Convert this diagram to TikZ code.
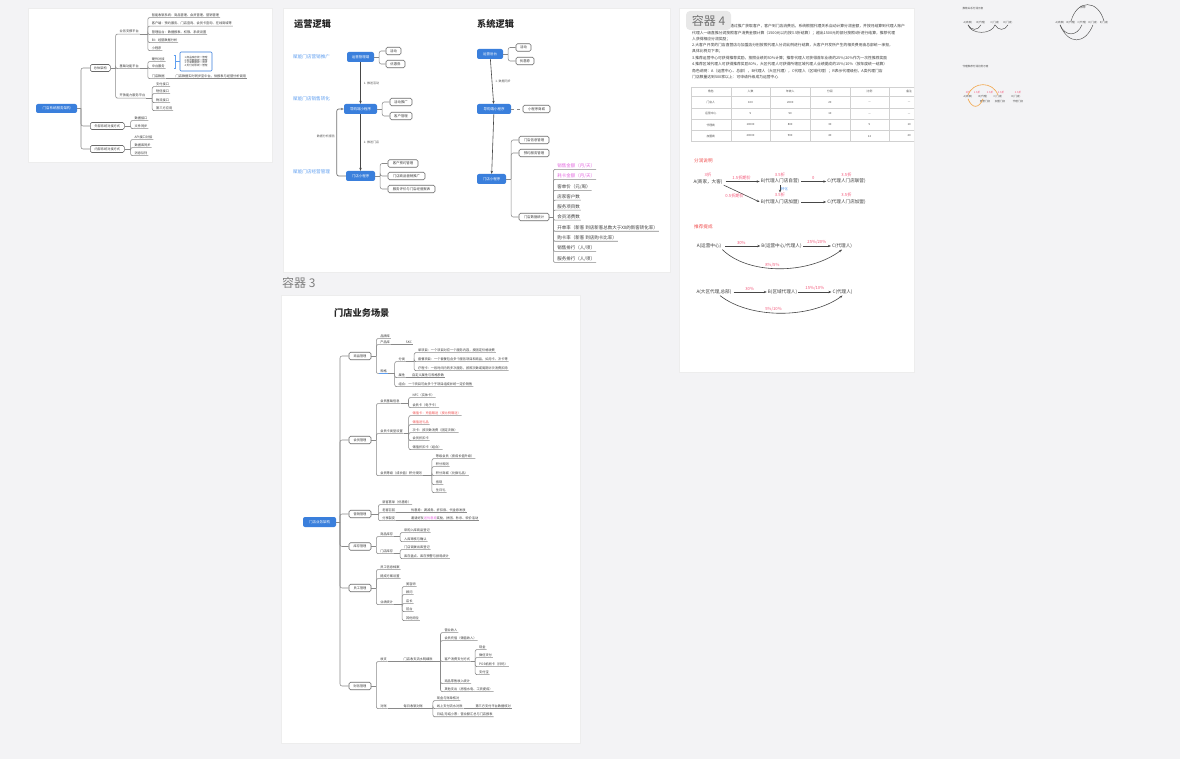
\documentclass[tikz,border=0pt]{standalone}
\usepackage{fontspec}
\setmainfont{Noto Sans CJK SC}
\usetikzlibrary{arrows.meta,positioning,calc}

\definecolor{canvasbg}{HTML}{F3F3F5}
\definecolor{hubblue}{HTML}{3A7FDC}
\definecolor{skyblue}{HTML}{5E9EF0}
\definecolor{linegray}{HTML}{8A8A8A}
\definecolor{boxgray}{HTML}{6A6A6A}
\definecolor{inkgray}{HTML}{3A3A3A}
\definecolor{magentatxt}{HTML}{E466E0}
\definecolor{redtxt}{HTML}{F04E4E}
\definecolor{rosetxt}{HTML}{F3587A}
\definecolor{arcorange}{HTML}{F2A548}

\newcommand{\fz}[1]{\fontsize{#1}{#1}\selectfont}

\tikzstyle{panel}=[fill=white, draw=black!7, line width=0.5pt]
\tikzstyle{mmroot}=[fill=hubblue, rounded corners=2pt, text=white, font=\fz{3.5}, inner sep=0pt]
\tikzstyle{mmtopic}=[draw=boxgray, fill=white, rounded corners=1.5pt, line width=0.6pt, text=inkgray, font=\fz{3.2}, inner sep=0pt]
\tikzstyle{mmleaf}=[anchor=west, inner xsep=0.8pt, inner ysep=0.9pt, text=inkgray, font=\fz{3.2}]
\tikzstyle{bigleaf}=[mmleaf, font=\fz{4.5}]
\tikzstyle{mmline}=[draw=linegray, line width=0.55pt, rounded corners=2pt]
\tikzstyle{flowarrow}=[draw=black!72, line width=0.6pt, -{Stealth[length=3pt,width=2.4pt]}]
\tikzstyle{flownote}=[font=\fz{3}, text=black!65, inner sep=1pt]
\tikzstyle{skylabel}=[anchor=west, font=\fz{4.6}, text=skyblue, inner sep=0pt]
\tikzstyle{heading}=[anchor=west, font=\bfseries\fz{9.2}, text=black!85, inner sep=0pt]
\tikzstyle{paratext}=[anchor=west, font=\fz{3.8}, text=inkgray, inner sep=0pt]
\tikzstyle{tableline}=[draw=black!18, line width=0.4pt]
\tikzstyle{cell}=[font=\fz{2.8}, text=black!70, inner sep=0pt]
\tikzstyle{flowtxt}=[font=\fz{4.6}, text=inkgray, inner sep=1pt]
\tikzstyle{rednote}=[font=\fz{4.2}, text=rosetxt, inner sep=0.5pt]
\tikzstyle{redhead}=[anchor=west, font=\fz{4.6}, text=redtxt, inner sep=0pt]
\tikzstyle{tinytxt}=[font=\fz{2.6}, text=black!70, inner sep=0.3pt]
\tikzstyle{tinyarc}=[draw=black!70, line width=0.45pt]
\tikzstyle{warmarc}=[draw=arcorange, line width=0.6pt]

\begin{document}
\begin{tikzpicture}[x=1pt, y=-1pt]
% the canvas and its fixed size
\fill[canvasbg] (0,0) rectangle (1180,759);
\useasboundingbox (0,0) rectangle (1180,759);

% First we draw the four containers
\foreach \xa/\ya/\xb/\yb in {28/8/272/162, 283/8/670/272, 281/295/580/743, 679/8/914/372}
  \filldraw[panel] (\xa,\ya) rectangle (\xb,\yb);
\node[anchor=west, text=black!50, font=\fz{12}, inner sep=0pt] (c3tag) at (282,283) {容器 3};

% ===== container 1 =====
\node[mmroot, minimum width=41pt, minimum height=9pt] (sys) at (56.5,108.5) {门店系统服务架构};
\foreach \y/\nm/\tx/\w in {68/arch/{总体架构}/20, 126/outer/{外部系统对接方式}/34, 149/inner/{内部系统对接方式}/34}
  \node[mmtopic, minimum width=\w pt, minimum height=7pt, anchor=west] (\nm) at (90,\y) {\tx};
\coordinate (sysS) at (81,108.5);
\draw[mmline] (sys.east) -- (sysS);
\foreach \nm in {arch,outer,inner} \draw[mmline] (sysS) |- (\nm.west);

\path (arch.east) ++(5,0) coordinate (archS) ++(3,0) coordinate (archX);
\draw[mmline] (arch.east) -- (archS);
\foreach \y/\nm/\tx in {31.5/biz/{业务支撑平台}, 66/base/{基础功能平台}, 95.5/open/{开放能力服务平台}}{
  \node[mmleaf] (\nm) at (archX |- 0,\y) {\tx};
  \draw[mmline] (archS) |- (\nm.south west) -- (\nm.south east);
}

\path (biz.south east) ++(8,0) coordinate (bizS) ++(3,0) coordinate (bizX);
\draw[mmline] (biz.south east) -- (bizS);
\foreach \y/\nm/\tx in {15/biz1/{智能收银系统：商品管理、会员管理、营销管理}, 23.5/biz2/{客户端：预约服务、门店查询、会员卡查询、在线商城等},
    32/biz3/{管理后台：数据报表、权限、系统设置}, 40/biz4/{BI：经营数据分析}, 48/biz5/{小程序}}{
  \node[mmleaf] (\nm) at (bizX |- 0,\y) {\tx};
  \draw[mmline] (bizS) |- (\nm.south west) -- (\nm.south east);
}

\path (base.south east) ++(8,0) coordinate (baseS) ++(3,0) coordinate (baseX);
\draw[mmline] (base.south east) -- (baseS);
\foreach \y/\nm/\tx in {59/base1/{硬件对接}, 66/base2/{中台服务}, 76/base3/{门店数据}}{
  \node[mmleaf] (\nm) at (baseX |- 0,\y) {\tx};
  \draw[mmline] (baseS) |- (\nm.south west) -- (\nm.south east);
}
\node[mmleaf, anchor=south west] (base3t) at ([xshift=9pt]base3.south east) {门店数据实时同步至中台，供报表与经营分析调用};
\draw[mmline] (base3.south east) -- (base3t.south east);
\node[draw=hubblue, fill=white, line width=0.6pt, rounded corners=1pt, align=left, font=\fz{2.6}, text=inkgray,
      inner sep=1.2pt, minimum width=32pt, minimum height=19pt] (baseNote) at (196,61.5)
      {1.商品库存统一管理\\2.会员数据统一管理\\3.订单数据统一同步\\4.支付对账统一管理};
\draw[draw=skyblue, line width=0.5pt] ($(baseNote.west)+(-6,-6.5)$) -- ++(1.5,0) -- ++(0,13) -- ++(-1.5,0);
\draw[draw=skyblue, line width=0.5pt] ($(baseNote.west)+(-4.5,0)$) -- (baseNote.west);

\path (open.south east) ++(6,0) coordinate (openS) ++(3,0) coordinate (openX);
\draw[mmline] (open.south east) -- (openS);
\foreach \y/\nm/\tx in {84/open1/{支付接口}, 91/open2/{短信接口}, 100/open3/{物流接口}, 108/open4/{第三方应用}}{
  \node[mmleaf] (\nm) at (openX |- 0,\y) {\tx};
  \draw[mmline] (openS) |- (\nm.south west) -- (\nm.south east);
}

\path (outer.east) ++(6,0) coordinate (outerS) ++(3,0) coordinate (outerX);
\draw[mmline] (outer.east) -- (outerS);
\foreach \y/\nm/\tx in {118/outer1/{数据接口}, 126/outer2/{文件同步}}{
  \node[mmleaf] (\nm) at (outerX |- 0,\y) {\tx};
  \draw[mmline] (outerS) |- (\nm.south west) -- (\nm.south east);
}
\path (inner.east) ++(6,0) coordinate (innerS) ++(3,0) coordinate (innerX);
\draw[mmline] (inner.east) -- (innerS);
\foreach \y/\nm/\tx in {137/inner1/{API接口对接}, 145/inner2/{数据库同步}, 153/inner3/{消息队列}}{
  \node[mmleaf] (\nm) at (innerX |- 0,\y) {\tx};
  \draw[mmline] (innerS) |- (\nm.south west) -- (\nm.south east);
}

% ===== container 2: 运营逻辑 / 系统逻辑 =====
\node[heading] (opTitle) at (294,24) {运营逻辑};
\node[heading] (sysTitle) at (477,24) {系统逻辑};
\foreach \y/\nm/\tx in {57/op1/{赋能门店营销推广}, 99/op2/{赋能门店销售转化}, 172/op3/{赋能门店经营管理}}
  \node[skylabel] (\nm) at (293,\y) {\tx};

\node[mmroot, minimum width=27pt, minimum height=10pt] (yy1) at (360.5,57) {运营管理端};
\node[mmroot, minimum width=33pt, minimum height=10pt] (yy2) at (360.5,109) {导购端小程序};
\node[mmroot, minimum width=29pt, minimum height=10pt] (yy3) at (360.5,176) {门店小程序};
\foreach \cx/\cy/\w/\nm/\tx in {393.5/51/15/yy1a/{活动}, 395.5/64/19/yy1b/{优惠券},
    401/102/22/yy2a/{活动推广}, 401/116/22/yy2b/{客户管理},
    403/163.5/30/yy3a/{客户预约管理}, 406.5/176/37/yy3b/{门店商品营销推广}, 411.5/189/47/yy3c/{服务评价与门店经营报表}}
  \node[mmtopic, font=\fz{3.4}, minimum width=\w pt, minimum height=7.5pt] (\nm) at (\cx,\cy) {\tx};
\foreach \p/\kids in {yy1/{yy1a,yy1b}, yy2/{yy2a,yy2b}, yy3/{yy3a,yy3b,yy3c}}{
  \path (\p.east) ++(5,0) coordinate (\p S);
  \draw[mmline] (\p.east) -- (\p S);
  \foreach \k in \kids \draw[mmline] (\p S) |- (\k.west);
}
\draw[flowarrow] (yy1) -- node[flownote, right=2pt] (yyl1) {1. 推送活动} (yy2);
\draw[flowarrow] (yy2) -- node[flownote, right=2pt] (yyl2) {2. 推送门店} (yy3);
\draw[flowarrow, draw=black!55, line width=0.7pt, rounded corners=2pt] (yy3.west) -- ++(-9,0) |- (yy2.west);
\node[flownote, anchor=east] (yyl3) at (336,136) {数据分析报告};

\node[mmroot, minimum width=26pt, minimum height=10pt] (xt1) at (490,54) {运营后台};
\node[mmroot, minimum width=34pt, minimum height=10pt] (xt2) at (494,109) {导购端小程序};
\node[mmroot, minimum width=29pt, minimum height=10pt] (xt3) at (491.5,179) {门店小程序};
\foreach \cx/\cy/\w/\nm/\tx in {523.5/47.5/15/xt1a/{活动}, 525/61/18/xt1b/{优惠券}, 536.5/109/27/xt2a/{小程序商城},
    534/140/30/xt3a/{门店信息管理}, 534/153/30/xt3b/{预约服务管理}, 534/217/30/stat/{门店数据统计}}
  \node[mmtopic, font=\fz{3.4}, minimum width=\w pt, minimum height=7.5pt] (\nm) at (\cx,\cy) {\tx};
\foreach \p/\kids in {xt1/{xt1a,xt1b}, xt3/{xt3a,xt3b,stat}}{
  \path (\p.east) ++(5,0) coordinate (\p S);
  \draw[mmline] (\p.east) -- (\p S);
  \foreach \k in \kids \draw[mmline] (\p S) |- (\k.west);
}
\draw[mmline, dashed] (xt2.east) -- (xt2a.west);
\draw[flowarrow] (xt1) -- node[flownote, right=2pt] (xtl1) {1. 数据同步} (xt2);
\draw[flowarrow] (xt2) -- (xt3);

\path (stat.east) ++(4,0) coordinate (statS) ++(3,0) coordinate (statX);
\draw[mmline] (stat.east) -- (statS);
\foreach \y/\nm/\tx in {166/st1/{\textcolor{magentatxt}{销售金额（月/天）}}, 176/st2/{\textcolor{magentatxt}{耗卡金额（月/天）}},
    187/st3/{客单价（元/周）}, 197/st4/{店家客户数}, 207/st5/{服务项目数}, 217/st6/{会员消费数},
    228/st7/{开单率（新客 到店新客总数大于XX的新客转化率）}, 238/st8/{购卡率（新客 到店购卡比率）},
    248/st9/{销售排行（人/项）}, 259/st10/{服务排行（人/项）}}{
  \node[bigleaf] (\nm) at (statX |- 0,\y) {\tx};
  \draw[mmline] (statS) |- (\nm.south west) -- (\nm.south east);
}

% ===== container 3: 门店业务场景 =====
\node[heading] (storeTitle) at (334,313) {门店业务场景};
\node[mmroot, minimum width=33pt, minimum height=10pt] (store) at (319.5,522) {门店业务架构};
\coordinate (storeS) at (340,522);
\draw[mmline] (store.east) -- (storeS);
\foreach \y/\nm/\tx in {356/goods/{商品管理}, 440/member/{会员管理}, 514/promo/{营销管理}, 546.5/stock/{库存管理}, 588/staff/{员工管理}, 686/fin/{财务管理}}{
  \node[mmtopic, minimum width=22pt, minimum height=7.5pt] (\nm) at (360,\y) {\tx};
  \draw[mmline] (storeS) |- (\nm.west);
}

% 商品管理
\path (goods.east) ++(5,0) coordinate (goodsS) ++(3,0) coordinate (goodsX);
\draw[mmline] (goods.east) -- (goodsS);
\foreach \y/\nm/\tx in {336/brand/{品牌库}, 342/prod/{产品库}}{
  \node[mmleaf] (\nm) at (goodsX |- 0,\y) {\tx};
  \draw[mmline] (goodsS) |- (\nm.south west) -- (\nm.south east);
}
\node[mmleaf, anchor=south west] (skc) at ([xshift=14pt]prod.south east) {SKC};
\draw[mmline] (prod.south east) -- (skc.south east);
\node[mmleaf] (spec) at (goodsX |- 0,371) {规格};
\draw[mmline] (goodsS) |- (spec.south west);
\draw[draw=skyblue, line width=0.9pt] (spec.south west) -- (spec.south east);
\path (spec.south east) ++(7,0) coordinate (specS) ++(3,0) coordinate (specX);
\draw[mmline] (spec.south east) -- (specS);
\foreach \y/\nm/\tx in {359/cat/{分类}, 375/attr/{属性}, 384/combo/{组合：一个项目可由多个子项目组成并统一定价销售}}{
  \node[mmleaf] (\nm) at (specX |- 0,\y) {\tx};
  \draw[mmline] (specS) |- (\nm.south west) -- (\nm.south east);
}
\node[mmleaf, anchor=south west] (attrT) at ([xshift=5pt]attr.south east) {自定义属性与规格参数};
\draw[mmline] (attr.south east) -- (attrT.south east);
\path (cat.south east) ++(8,0) coordinate (catS) ++(3,0) coordinate (catX);
\draw[mmline] (cat.south east) -- (catS);
\foreach \y/\nm/\tx in {350/cat1/{单项目：一个项目对应一个服务内容，按固定价格收费}, 359/cat2/{套餐项目：一个套餐包含多个服务项目和商品，如月卡、次卡等},
    368/cat3/{疗程卡：一段时间内的多次服务，按照次数或周期计次消费扣除}}{
  \node[mmleaf] (\nm) at (catX |- 0,\y) {\tx};
  \draw[mmline] (catS) |- (\nm.south west) -- (\nm.south east);
}

% 会员管理
\path (member.east) ++(5,0) coordinate (memberS) ++(3,0) coordinate (memberX);
\draw[mmline] (member.east) -- (memberS);
\foreach \y/\nm/\tx in {401/minfo/{会员基础信息}, 431/mcard/{会员卡类型设置}, 473/mlevel/{会员等级（成长值）积分规则}}{
  \node[mmleaf] (\nm) at (memberX |- 0,\y) {\tx};
  \draw[mmline] (memberS) |- (\nm.south west) -- (\nm.south east);
}
\path (minfo.south east) ++(8,0) coordinate (minfoS) ++(3,0) coordinate (minfoX);
\draw[mmline] (minfo.south east) -- (minfoS);
\foreach \y/\nm/\tx in {395/minfo1/{NFC（实体卡）}, 405/minfo2/{会员卡（电子卡）}}{
  \node[mmleaf] (\nm) at (minfoX |- 0,\y) {\tx};
  \draw[mmline] (minfoS) |- (\nm.south west) -- (\nm.south east);
}
\path (mcard.south east) ++(5,0) coordinate (mcardS) ++(3,0) coordinate (mcardX);
\draw[mmline] (mcard.south east) -- (mcardS);
\foreach \y/\nm/\tx in {413/mcard1/{\textcolor{redtxt}{储值卡：充值赠送（按比例赠送）}}, 422/mcard2/{\textcolor{redtxt}{储值送礼品}},
    430/mcard3/{次卡：按次数消费（固定次数）}, 438/mcard4/{会员折扣卡}, 447/mcard5/{储值折扣卡（组合）}}{
  \node[mmleaf] (\nm) at (mcardX |- 0,\y) {\tx};
  \draw[mmline] (mcardS) |- (\nm.south west) -- (\nm.south east);
}
\path (mlevel.south east) ++(9,0) coordinate (mlevelS) ++(3,0) coordinate (mlevelX);
\draw[mmline] (mlevel.south east) -- (mlevelS);
\foreach \y/\nm/\tx in {456/mlevel1/{等级会员（按成长值升级）}, 464/mlevel2/{积分规则}, 473/mlevel3/{积分商城（兑换礼品）},
    482/mlevel4/{抵现}, 490/mlevel5/{生日礼}}{
  \node[mmleaf] (\nm) at (mlevelX |- 0,\y) {\tx};
  \draw[mmline] (mlevelS) |- (\nm.south west) -- (\nm.south east);
}

% 营销管理
\path (promo.east) ++(7,0) coordinate (promoS) ++(3,0) coordinate (promoX);
\draw[mmline] (promo.east) -- (promoS);
\foreach \y/\nm/\tx in {502/promo1/{新客首单（优惠券）}, 510/promo2/{老客召回}, 518/promo3/{分享裂变}}{
  \node[mmleaf] (\nm) at (promoX |- 0,\y) {\tx};
  \draw[mmline] (promoS) |- (\nm.south west) -- (\nm.south east);
}
\node[mmleaf, anchor=south west] (promo2t) at ([xshift=14pt]promo2.south east) {优惠券：满减券、折扣券、代金券发放};
\draw[mmline] (promo2.south east) -- (promo2t.south east);
\node[mmleaf, anchor=south west] (promo3t) at ([xshift=14pt]promo3.south east) {邀请好友\textcolor{magentatxt}{送优惠券}奖励，拼团、秒杀、砍价活动};
\draw[mmline] (promo3.south east) -- (promo3t.south east);

% 库存管理
\path (stock.east) ++(5,0) coordinate (stockS) ++(3,0) coordinate (stockX);
\draw[mmline] (stock.east) -- (stockS);
\foreach \y/\nm/\tx in {534/gstock/{商品库存}, 551/sstock/{门店库存}}{
  \node[mmleaf] (\nm) at (stockX |- 0,\y) {\tx};
  \draw[mmline] (stockS) |- (\nm.south west) -- (\nm.south east);
}
\path (gstock.south east) ++(6,0) coordinate (gstockS) ++(3,0) coordinate (gstockX);
\draw[mmline] (gstock.south east) -- (gstockS);
\foreach \y/\nm/\tx in {530/gstock1/{采购入库商品登记}, 539/gstock2/{入库审核与确认}}{
  \node[mmleaf] (\nm) at (gstockX |- 0,\y) {\tx};
  \draw[mmline] (gstockS) |- (\nm.south west) -- (\nm.south east);
}
\path (sstock.south east) ++(6,0) coordinate (sstockS) ++(3,0) coordinate (sstockX);
\draw[mmline] (sstock.south east) -- (sstockS);
\foreach \y/\nm/\tx in {547/sstock1/{门店调拨出库登记}, 556/sstock2/{库存盘点、库存预警与损耗统计}}{
  \node[mmleaf] (\nm) at (sstockX |- 0,\y) {\tx};
  \draw[mmline] (sstockS) |- (\nm.south west) -- (\nm.south east);
}

% 员工管理
\path (staff.east) ++(5,0) coordinate (staffS) ++(3,0) coordinate (staffX);
\draw[mmline] (staff.east) -- (staffS);
\foreach \y/\nm/\tx in {567/staff1/{员工信息档案}, 576/staff2/{提成方案设置}, 602/staff3/{业绩统计}}{
  \node[mmleaf] (\nm) at (staffX |- 0,\y) {\tx};
  \draw[mmline] (staffS) |- (\nm.south west) -- (\nm.south east);
}
\path (staff3.south east) ++(8,0) coordinate (staff3S) ++(3,0) coordinate (staff3X);
\draw[mmline] (staff3.south east) -- (staff3S);
\foreach \y/\nm/\tx in {584/role1/{美容师}, 592/role2/{顾问}, 601/role3/{店长}, 609/role4/{前台}, 618/role5/{其他岗位}}{
  \node[mmleaf] (\nm) at (staff3X |- 0,\y) {\tx};
  \draw[mmline] (staff3S) |- (\nm.south west) -- (\nm.south east);
}

% 财务管理
\path (fin.east) ++(5,0) coordinate (finS) ++(3,0) coordinate (finX);
\draw[mmline] (fin.east) -- (finS);
\foreach \y/\nm/\tx in {659/cash/{收支}, 706/check/{对账}}{
  \node[mmleaf] (\nm) at (finX |- 0,\y) {\tx};
  \draw[mmline] (finS) |- (\nm.south west) -- (\nm.south east);
}
\node[mmleaf, anchor=south west] (cashT) at ([xshift=15pt]cash.south east) {门店收支流水明细账};
\draw[mmline] (cash.south east) -- (cashT.south east);
\node[mmleaf, anchor=south west] (checkT) at ([xshift=15pt]check.south east) {每日收银对账};
\draw[mmline] (check.south east) -- (checkT.south east);
\path (cashT.south east) ++(7,0) coordinate (cashS) ++(3,0) coordinate (cashX);
\draw[mmline] (cashT.south east) -- (cashS);
\foreach \y/\nm/\tx in {630/cash1/{营业收入}, 638/cash2/{会员充值（储值收入）}, 659/cash3/{客户消费支付方式},
    681/cash4/{商品零售收入统计}, 689/cash5/{其他支出（房租水电、工资提成）}}{
  \node[mmleaf] (\nm) at (cashX |- 0,\y) {\tx};
  \draw[mmline] (cashS) |- (\nm.south west) -- (\nm.south east);
}
\path (cash3.south east) ++(4,0) coordinate (payS) ++(3,0) coordinate (payX);
\draw[mmline] (cash3.south east) -- (payS);
\foreach \y/\nm/\tx in {647/pay1/{现金}, 655/pay2/{微信支付}, 664/pay3/{POS机刷卡（扫码）}, 672/pay4/{支付宝}}{
  \node[mmleaf] (\nm) at (payX |- 0,\y) {\tx};
  \draw[mmline] (payS) |- (\nm.south west) -- (\nm.south east);
}
\path (checkT.south east) ++(9,0) coordinate (checkS) ++(3,0) coordinate (checkX);
\draw[mmline] (checkT.south east) -- (checkS);
\foreach \y/\nm/\tx in {698/check1/{现金与账单核对}, 706/check2/{线上支付流水对账}, 714/check3/{日结/月结小票：营业额汇总与门店报表}}{
  \node[mmleaf] (\nm) at (checkX |- 0,\y) {\tx};
  \draw[mmline] (checkS) |- (\nm.south west) -- (\nm.south east);
}
\node[mmleaf, anchor=south west] (check2t) at ([xshift=11pt]check2.south east) {第三方支付平台数据核对};
\draw[mmline] (check2.south east) -- (check2t.south east);

% ===== container 4: 分润规则 =====
\foreach \y/\nm/\tx in {
    26.3/para1/{分润规则说明：代理人通过推广获取客户，客户到门店消费后，系统根据代理关系自动计算分润金额，并按月结算到代理人账户},
    33/para2/{代理人一级直推分润按照客户消费金额计算（1500元以内按3.5折结算）；超出1500元的部分按照4折进行结算，推荐代理},
    39/para3/{人获得相应分润奖励；},
    45.3/para4/{2.大客户开发的门店直营店与加盟店分别按照代理人分润比例进行结算，大客户开发所产生的相关费用由总部统一承担，},
    51.3/para5/{具体比例见下表；},
    58/para6/{3.推荐运营中心可获得推荐奖励，按照业绩的30\%计算；推荐代理人可获得首年业绩的25\%/20\%作为一次性推荐奖励},
    64/para7/{4.推荐区域代理人可获得推荐奖励30\%，大区代理人可获得所辖区域代理人业绩提成的15\%/10\%（按年度统一结算）},
    70.7/para8/{角色说明：A（运营中心、总部），B代理人（大区代理），C代理人（区域代理）；R表示代理级别，A类代理门店},
    76.7/para9/{门店数量达到500家以上：可申请升级成为运营中心}}
  \node[paratext] (\nm) at (692,\y) {\tx};
\node[fill=black!9, rounded corners=4pt, text=black!55, font=\fz{12}, inner sep=0pt,
      minimum width=45pt, minimum height=19pt] (c4tag) at (708.5,20.5) {容器 4};

% the table, cut by the container edge
\begin{scope}
  \clip (679,8) rectangle (914,372);
  \foreach \y in {87,96.5,108,119.5,130.5,141.5} \draw[tableline] (691,\y) -- (929,\y);
  \foreach \x in {691,730.7,770.3,810,849.7,889.3,929} \draw[tableline] (\x,87) -- (\x,141.5);
  \foreach \y/\ta/\tb/\tc/\td/\te/\tf [count=\r] in {91.8/角色/人数/年收入/分润/比例/备注, 102.3/门店人/100/2000/20/—/—,
      113.8/运营中心/5/50/10/—/—, 125/代理商/10000/800/30/5/10, 136/加盟商/20000/900/40/12/20}
    \foreach \x/\t [count=\c] in {710.8/\ta, 750.5/\tb, 790.2/\tc, 829.8/\td, 869.5/\te, 909.2/\tf}
      \node[cell] (cell\r\c) at (\x,\y) {\t};
\end{scope}

% 分润说明
\node[redhead] (shareHead) at (694,161) {分润说明};
\node[flowtxt] (fa) at (708,181.5) {A(商家，大客)};
\node[flowtxt] (fb1) at (780,181.5) {B(代理人门店自营)};
\node[flowtxt] (fc1) at (846.5,181.5) {C(代理人门店联营)};
\node[flowtxt] (fb2) at (780,202) {B(代理人门店加盟)};
\node[flowtxt] (fc2) at (846.5,202) {C(代理人门店加盟)};
\foreach \nm/\tx in {fa/{3折}, fb1/{3.5折}, fc1/{3.5折}, fb2/{3.5折}, fc2/{3.5折}}
  \node[rednote, above=0.6pt of \nm] (\nm r) {\tx};
\draw[flowarrow, shorten <=2pt] (fa) -- node[rednote, above=1pt] (fl1) {1.5折期价} (fb1);
\draw[flowarrow, shorten <=1pt] (fb1) -- node[rednote, above=1pt] (fl2) {0} (fc1);
\draw[flowarrow, shorten <=1pt] (fb2) -- (fc2);
\draw[flowarrow] (fb1.south) -- node[right=0pt, font=\fz{3.6}, text=skyblue, inner sep=0.5pt] (fcv) {转化} (fb2r.north);
\draw[flowarrow] (fa.south east) -- node[rednote, below left=0pt and -3pt] (fl3) {0.5折期价} (fb2.west);

% 推荐提成
\node[redhead] (referHead) at (694,226.7) {推荐提成};
\node[flowtxt] (ga) at (709,246) {A(运营中心)};
\node[flowtxt] (gb) at (781.5,246) {B(运营中心/代理人)};
\node[flowtxt] (gc) at (842,246) {C(代理人)};
\draw[flowarrow, shorten <=3pt] (ga) -- node[rednote, above=1pt] (gl1) {30\%} (gb);
\draw[flowarrow] (gb) -- node[rednote, above=1pt] (gl2) {25\%/20\%} (gc);
\draw[flowarrow] (ga.south east) .. controls (748,275) and (808,275) .. node[rednote, pos=0.45, above=0.5pt] (gl3) {8\%/5\%} (gc.south);

\node[flowtxt] (ha) at (714,292) {A(大区代理,总部)};
\node[flowtxt] (hb) at (782.5,292) {B(区域代理人)};
\node[flowtxt] (hc) at (842.5,292) {C(代理人)};
\draw[flowarrow, shorten <=1pt] (ha) -- node[rednote, above=1pt] (hl1) {30\%} (hb);
\draw[flowarrow] (hb) -- node[rednote, above=1pt] (hl2) {15\%/10\%} (hc);
\draw[flowarrow] ([xshift=6pt]ha.south) .. controls (750,319) and (810,319) .. node[rednote, pos=0.45, above=0.5pt] (hl3) {5\%/10\%} (hc.south);

% ===== loose sketches on the canvas =====
\node[tinytxt, anchor=west] (sk1) at (962,9) {推荐关系分润示意};
\foreach \x/\nm/\tx in {968/p1/{A(商家)}, 981/p2/{B(代理)}, 995/p3/{C(门店)}, 1008/p4/{D(门店)}}
  \node[tinytxt] (\nm) at (\x,23) {\tx};
\draw[tinyarc] (p1.south) .. controls +(3,10) and +(-3,10) .. (p3.south);
\draw[tinyarc] (p1.south) .. controls +(3,6) and +(-3,6) .. (p2.south);
\draw[tinyarc] (p3.south) .. controls +(3,6) and +(-3,6) .. (p4.south);

\foreach \x/\nm/\tx in {1060/q1/{A(商家)}, 1071/q2/{B(代理)}, 1082/q3/{C(代理)}, 1093/q4/{D(门店)}, 1104/q5/{E(门店)}}
  \node[tinytxt] (\nm) at (\x,23) {\tx};
\draw[tinyarc] (q2.north) .. controls +(6,-22) and +(-6,-22) .. (q5.north);
\draw[tinyarc] (q1.south) .. controls +(8,20) and +(-8,20) .. (q4.south);
\draw[tinyarc] (q1.south) .. controls +(5,12) and +(-5,12) .. (q3.south);
\node[tinytxt] (q6) at (1083,8) {推荐};

\node[tinytxt, anchor=west] (sk2) at (962,67) {代理推荐分润比例示意};
\foreach \x/\nm/\tx in {968/r1/{A(商家)}, 983/r2/{B(代理)}, 998/r3/{C(门店)}, 1016/r4/{D(门店)}}
  \node[tinytxt] (\nm) at (\x,97) {\tx};
\foreach \x/\nm/\tx in {968/r1u/{3折}, 977/r2u/{1.5折}, 990/r3u/{3.5折}, 1001/r4u/{3.5折}, 1018/r5u/{3.5折}}
  \node[tinytxt, text=rosetxt] (\nm) at (\x,92.5) {\tx};
\foreach \x/\nm/\tx in {985/r1d/{直营门店}, 1000/r2d/{加盟门店}, 1018/r3d/{代理门店}}
  \node[tinytxt] (\nm) at (\x,102) {\tx};
\draw[warmarc] (r1.north) .. controls +(5,-14) and +(-5,-14) .. (r3.north);
\draw[warmarc] (r1.south) .. controls +(4,10) and +(-4,10) .. (r2.south);
\end{tikzpicture}
\end{document}
